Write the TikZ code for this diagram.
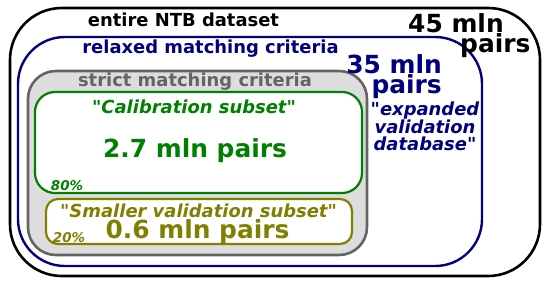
\documentclass[tikz,border=0pt]{standalone}
\usepackage{fontspec}
\setmainfont{DejaVu Sans}[Ligatures=TeXOff]
\usepackage{xcolor}
\usepackage{tikz}

\definecolor{navyblue}{RGB}{0,0,128}
\definecolor{calgreen}{RGB}{0,128,0}
\definecolor{smallolive}{RGB}{128,128,0}
\definecolor{strictgray}{RGB}{100,100,100}
\definecolor{strictfill}{RGB}{221,221,221}

\begin{document}
\begin{tikzpicture}[x=1bp, y=-1bp,
    boxtext/.style={inner sep=0pt, anchor=base, font=\fontsize{18}{17}\selectfont\bfseries},
    subtext/.style={inner sep=0pt, anchor=base, font=\fontsize{18}{17}\selectfont\bfseries\itshape},
    bignum/.style={inner sep=0pt, anchor=base, font=\fontsize{25}{20}\selectfont\bfseries},
    pct/.style={inner sep=0pt, anchor=base, font=\fontsize{13.5}{14}\selectfont\bfseries\itshape}]
    \useasboundingbox (0, 0) rectangle (550, 285);

    % boxes
    \draw[line width=2.6pt, rounded corners=52] (10, 8) rectangle (540, 276);
    \draw[navyblue, line width=2.4pt, rounded corners=47] (18, 37) rectangle (482, 266);
    \draw[strictgray, fill=strictfill, line width=2.6pt, rounded corners=28] (28, 71) rectangle (367, 255);
    \draw[calgreen, fill=white, line width=2.2pt, rounded corners=20] (35, 92) rectangle (362, 193);
    \draw[smallolive, fill=white, line width=2.2pt, rounded corners=12] (46, 199) rectangle (352, 244);

    % entire dataset
    \node[boxtext] at (183.5, 26) (entire) {entire NTB dataset};
    \node[bignum, anchor=north west, align=left] at (408, 13) (entire45)
        {45 mln\\\hspace*{52bp}pairs};

    % relaxed criteria
    \node[boxtext, navyblue] at (210.5, 53) (relaxed) {relaxed matching criteria};
    \node[bignum, navyblue, anchor=north east, align=right] at (442, 54) (relaxed35)
        {35 mln\\pairs};
    \node[subtext, navyblue, anchor=north, align=center] at (425, 101.3) (expanded)
        {"expanded\\validation\\database"};

    % strict criteria
    \node[boxtext, strictgray] at (195, 86) (strict) {strict matching criteria};

    % calibration subset
    \node[subtext, calgreen] at (194, 113) (calib) {"Calibration subset"};
    \node[bignum, calgreen] at (195, 157) (calibnum) {2.7 mln pairs};
    \node[pct, calgreen] at (67, 190) (calibpct) {80\%};

    % smaller validation subset
    \node[subtext, smallolive] at (198.5, 217) (smaller) {"Smaller validation subset"};
    \node[bignum, smallolive] at (197.5, 238) (smallernum) {0.6 mln pairs};
    \node[pct, smallolive] at (69, 242) (smallerpct) {20\%};

\end{tikzpicture}
\end{document}
